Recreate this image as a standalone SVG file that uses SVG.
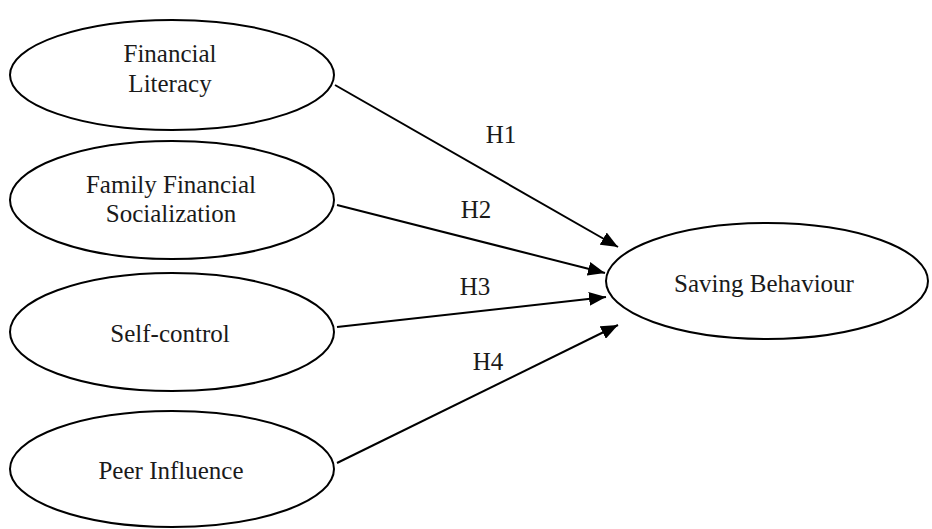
<svg xmlns="http://www.w3.org/2000/svg" width="932" height="529" viewBox="0 0 932 529">
<defs>
<style>
.node ellipse{fill:#fff;stroke:#000;stroke-width:2}
text{font-family:"Liberation Serif","Times New Roman",serif;font-size:25px;fill:#1a1a1a;text-anchor:middle}
.conn line{stroke:#000;stroke-width:2}
</style>
<marker id="arr" markerUnits="userSpaceOnUse" markerWidth="18" markerHeight="14" refX="17" refY="7" orient="auto">
<path d="M0,0 L17,7 L0,14 z" fill="#000"/>
</marker>
</defs>
<g id="n1" class="node"><ellipse cx="172" cy="75" rx="162" ry="55"/><text x="170" y="62">Financial</text><text x="170" y="92">Literacy</text></g>
<g id="n2" class="node"><ellipse cx="172" cy="200" rx="162" ry="59"/><text x="171" y="193">Family Financial</text><text x="171" y="222">Socialization</text></g>
<g id="n3" class="node"><ellipse cx="172" cy="332" rx="162" ry="59"/><text x="170" y="342">Self-control</text></g>
<g id="n4" class="node"><ellipse cx="172" cy="469" rx="162" ry="58"/><text x="171" y="479">Peer Influence</text></g>
<g id="n5" class="node"><ellipse cx="767" cy="281" rx="161" ry="58"/><text x="764" y="292">Saving Behaviour</text></g>
<g id="connectors" class="conn">
<line x1="335" y1="85" x2="618" y2="247" marker-end="url(#arr)"/>
<line x1="337" y1="205" x2="605" y2="273" marker-end="url(#arr)"/>
<line x1="337" y1="327" x2="606" y2="297" marker-end="url(#arr)"/>
<line x1="337" y1="463" x2="618" y2="325" marker-end="url(#arr)"/>
<text x="501" y="143">H1</text>
<text x="476" y="218">H2</text>
<text x="475" y="295">H3</text>
<text x="488" y="370">H4</text>
</g>
</svg>
